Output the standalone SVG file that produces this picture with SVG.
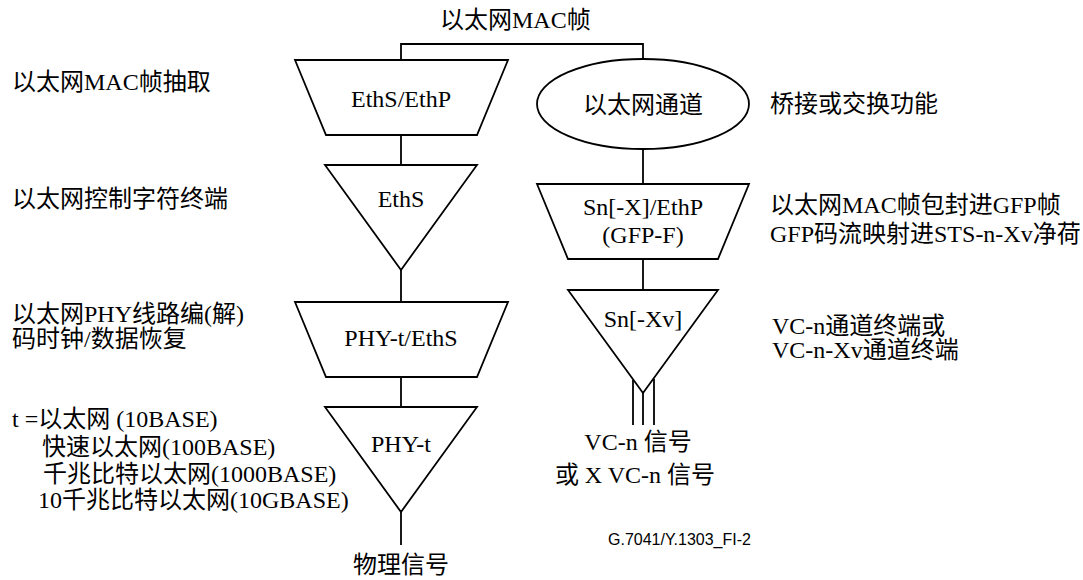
<svg xmlns="http://www.w3.org/2000/svg" width="1083" height="580" viewBox="0 0 1083 580">
  <style>
    .shape { fill: #fff; stroke: #000; stroke-width: 1.8; stroke-linejoin: miter; }
    .wire { fill: none; stroke: #000; stroke-width: 1.8; }
    text { font-family: "Liberation Serif", "Noto Sans CJK SC", serif; font-size: 24px; fill: #000; }
    .mid { text-anchor: middle; }
    .tag { font-family: "Liberation Sans", Arial, sans-serif; font-size: 16px; }
  </style>
  <rect width="1083" height="580" fill="#fff"/>

  <!-- connectors -->
  <g id="connectors">
    <polyline class="wire" points="401,60 401,44 643,44 643,59"/>
    <line class="wire" x1="401" y1="135" x2="401" y2="165"/>
    <line class="wire" x1="401" y1="270" x2="401" y2="302"/>
    <line class="wire" x1="401" y1="377" x2="401" y2="407"/>
    <line class="wire" x1="401" y1="512" x2="401" y2="545"/>
    <line class="wire" x1="643" y1="149" x2="643" y2="184"/>
    <line class="wire" x1="643" y1="259" x2="643" y2="290"/>
    <line class="wire" x1="633" y1="380" x2="633" y2="425"/>
    <line class="wire" x1="643" y1="393" x2="643" y2="425"/>
    <line class="wire" x1="654" y1="379" x2="654" y2="425"/>
  </g>

  <text x="440" y="28">以太网MAC帧</text>

  <!-- left column -->
  <g id="eths-ethp">
    <polygon class="shape" points="295,60 508,60 477,135 326,135"/>
    <text class="mid" x="401" y="107">EthS/EthP</text>
  </g>
  <g id="eths">
    <polygon class="shape" points="325,165 477,165 401,270"/>
    <text class="mid" x="401" y="207">EthS</text>
  </g>
  <g id="phy-eths">
    <polygon class="shape" points="295,302 508,302 477,377 326,377"/>
    <text class="mid" x="401" y="346">PHY-t/EthS</text>
  </g>
  <g id="phy-t">
    <polygon class="shape" points="325,407 477,407 401,512"/>
    <text class="mid" x="401" y="452">PHY-t</text>
  </g>
  <text class="mid" x="401" y="573">物理信号</text>

  <!-- right column -->
  <g id="eth-channel">
    <ellipse class="shape" cx="643" cy="104" rx="106" ry="45"/>
    <text class="mid" x="643" y="113">以太网通道</text>
  </g>
  <g id="sn-ethp">
    <polygon class="shape" points="537,184 749,184 718,259 568,259"/>
    <text class="mid" x="643" y="215">Sn[-X]/EthP</text>
    <text class="mid" x="643" y="243">(GFP-F)</text>
  </g>
  <g id="sn-xv">
    <polygon class="shape" points="568,290 718,290 643,393"/>
    <text class="mid" x="643" y="327">Sn[-Xv]</text>
  </g>
  <text class="mid" x="638" y="450">VC-n 信号</text>
  <text class="mid" x="635" y="483">或 X VC-n 信号</text>

  <!-- left annotations -->
  <text x="12" y="90">以太网MAC帧抽取</text>
  <text x="12" y="207">以太网控制字符终端</text>
  <text x="12" y="322">以太网PHY线路编(解)</text>
  <text x="12" y="347">码时钟/数据恢复</text>
  <text x="12" y="427">t =以太网 (10BASE)</text>
  <text x="42" y="455">快速以太网(100BASE)</text>
  <text x="43" y="482">千兆比特以太网(1000BASE)</text>
  <text x="38" y="508">10千兆比特以太网(10GBASE)</text>

  <!-- right annotations -->
  <text x="770" y="112">桥接或交换功能</text>
  <text x="770" y="213">以太网MAC帧包封进GFP帧</text>
  <text x="770" y="242">GFP码流映射进STS-n-Xv净荷</text>
  <text x="772" y="334">VC-n通道终端或</text>
  <text x="772" y="358">VC-n-Xv通道终端</text>

  <text class="tag" x="608" y="545">G.7041/Y.1303_FI-2</text>
</svg>
